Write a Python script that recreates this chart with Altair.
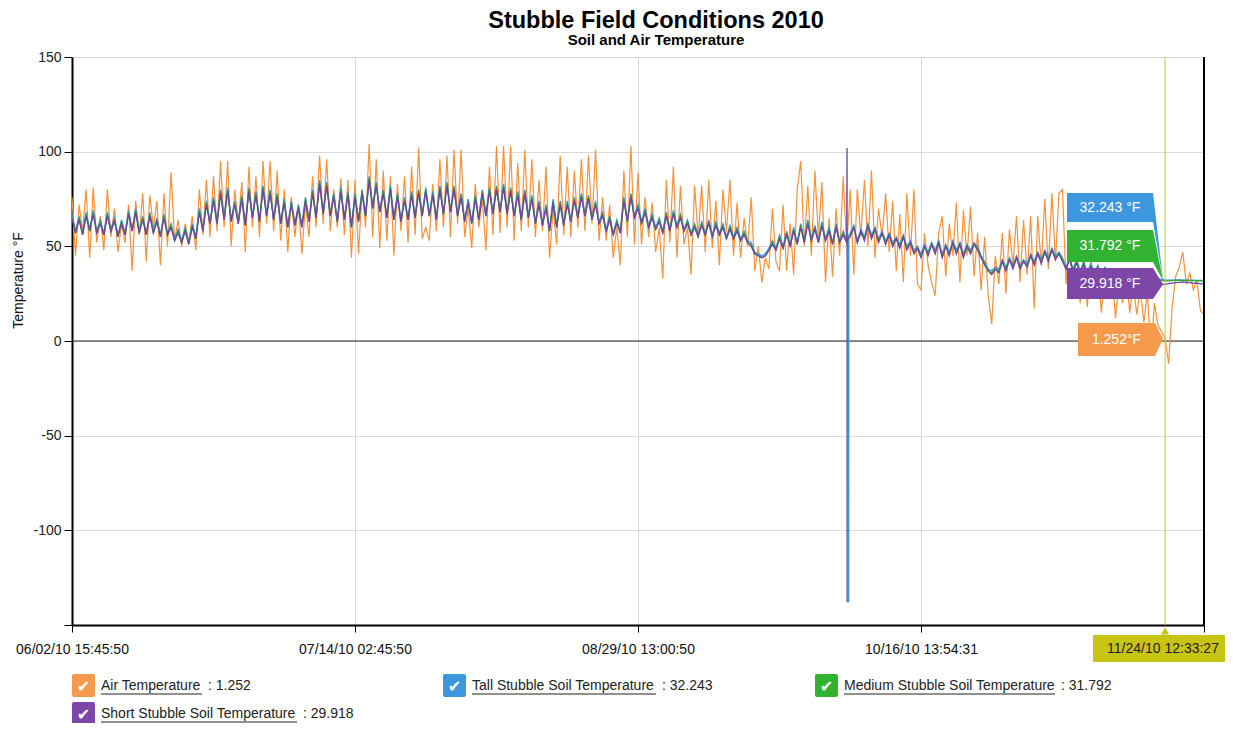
import altair as alt
import pandas as pd

# ---------------- data ----------------
STEP = 0.5  # x-units between samples (axis: 40 units between labelled ticks)

AIR = [
    76, 45, 72, 58, 80, 44, 81, 52, 66, 48, 80, 55, 70, 47, 62, 52, 72, 37, 74, 56,
    78, 42, 77, 60, 74, 40, 78, 50, 89, 53, 64, 50, 62, 52, 66, 48, 80, 56, 85, 55,
    87, 58, 95, 60, 95, 50, 80, 62, 84, 47, 92, 60, 87, 55, 95, 62, 95, 58, 90, 53,
    80, 47, 76, 55, 72, 46, 73, 55, 87, 60, 98, 62, 96, 58, 80, 60, 86, 56, 85, 44,
    85, 46, 80, 60, 104, 55, 96, 49, 90, 53, 87, 45, 83, 58, 87, 52, 92, 56, 102, 54,
    60, 53, 83, 58, 96, 60, 98, 55, 101, 62, 101, 55, 70, 49, 83, 60, 75, 48, 92, 56,
    103, 57, 103, 60, 103, 53, 94, 58, 101, 60, 96, 55, 85, 58, 92, 44, 70, 51, 98, 56,
    92, 55, 90, 60, 96, 58, 98, 62, 101, 53, 76, 53, 72, 44, 60, 40, 90, 55, 103, 51,
    89, 51, 76, 55, 73, 47, 60, 33, 85, 52, 92, 44, 82, 51, 60, 35, 82, 55, 82, 47,
    85, 49, 74, 40, 80, 58, 85, 45, 73, 44, 65, 50, 76, 37, 50, 31, 44, 38, 70, 42,
    37, 72, 37, 62, 35, 80, 95, 50, 82, 45, 90, 55, 84, 31, 65, 34, 70, 45, 87, 50,
    80, 35, 80, 55, 85, 50, 90, 44, 70, 55, 78, 47, 74, 37, 67, 31, 78, 45, 80, 30,
    27, 57, 40, 31, 24, 57, 66, 34, 62, 45, 73, 31, 69, 45, 71, 34, 57, 27, 55, 24,
    9, 45, 30, 57, 25, 59, 40, 66, 31, 64, 35, 66, 17, 66, 40, 75, 38, 78, 42, 78,
    80, 30, 55, 25, 50, 20, 45, 18, 42, 23, 40, 15, 38, 22, 35, 12, 33, 20, 36, 15,
    30, 14, 28, 10, 25, -6, 20, 8, 5, 1.252, -12, 18, 34, 39, 47, 30, 36, 27, 32, 16,
    14,
]

TALL = [
    67, 58, 66, 57, 68, 59, 69, 58, 64, 57, 68, 59, 65, 56, 64, 57, 69, 59, 70, 58,
    66, 57, 68, 58, 65, 56, 67, 57, 62, 54, 59, 53, 60, 52, 62, 55, 70, 59, 74, 63,
    76, 63, 80, 65, 81, 64, 74, 63, 77, 62, 81, 66, 79, 64, 82, 67, 80, 65, 78, 63,
    75, 61, 74, 62, 72, 61, 76, 64, 80, 66, 85, 68, 84, 67, 78, 64, 81, 65, 79, 61,
    78, 64, 80, 67, 87, 71, 84, 69, 80, 66, 82, 65, 78, 64, 76, 65, 79, 66, 80, 67,
    81, 67, 79, 65, 82, 68, 84, 69, 82, 67, 78, 64, 75, 63, 77, 65, 80, 67, 81, 68,
    82, 69, 83, 68, 81, 67, 79, 65, 80, 66, 77, 63, 74, 62, 72, 59, 75, 61, 74, 62,
    74, 64, 76, 66, 78, 67, 77, 65, 74, 63, 68, 59, 66, 57, 64, 58, 76, 64, 78, 66,
    72, 63, 70, 61, 67, 60, 65, 58, 68, 59, 69, 61, 67, 59, 64, 57, 62, 56, 63, 57,
    64, 56, 63, 57, 62, 55, 61, 55, 60, 54, 58, 53, 52, 47, 46, 45, 46, 49, 53, 49,
    56, 50, 58, 51, 60, 52, 62, 53, 64, 54, 61, 53, 63, 54, 60, 52, 62, 53, 58, 53,
    57, 61, 53, 59, 55, 62, 56, 60, 54, 58, 53, 57, 52, 55, 51, 56, 50, 53, 48, 50,
    46, 51, 47, 52, 48, 53, 46, 51, 47, 53, 48, 52, 46, 51, 48, 52, 50, 45, 42, 38,
    37, 39, 38, 43, 39, 44, 40, 45, 40, 43, 41, 46, 42, 47, 43, 48, 44, 49, 45, 47,
    44, 39, 44, 38, 43, 37, 42, 36, 41, 36, 40, 35, 39, 34, 38, 34, 37, 33.5, 36, 33,
    35, 33, 34, 33, 33.5, 33, 33, 32.8, 32.5, 32.243, 32.2, 32.2, 32.3, 32.3, 32.2, 32.2, 32.1, 32.1, 32.0, 32.0,
    32.0,
]

MEDIUM = [
    66, 57, 65, 56, 67, 58, 68, 57, 63, 56, 67, 58, 64, 55, 63, 56, 68, 58, 69, 57,
    65, 56, 67, 57, 64, 55, 66, 56, 61, 53, 58, 52, 59, 51, 61, 54, 69, 58, 73, 62,
    75, 62, 79, 64, 80, 63, 73, 62, 76, 61, 80, 65, 78, 63, 81, 66, 79, 64, 77, 62,
    74, 60, 73, 61, 71, 60, 75, 63, 79, 65, 84, 67, 83, 66, 77, 63, 80, 64, 78, 60,
    77, 63, 79, 66, 86, 70, 83, 68, 79, 65, 81, 64, 77, 63, 75, 64, 78, 65, 79, 66,
    80, 66, 78, 64, 81, 67, 83, 68, 81, 66, 77, 63, 74, 62, 76, 64, 79, 66, 80, 67,
    81, 68, 82, 67, 80, 66, 78, 64, 79, 65, 76, 62, 73, 61, 71, 58, 74, 60, 73, 61,
    73, 63, 75, 65, 77, 66, 76, 64, 73, 62, 67, 58, 65, 56, 63, 57, 75, 63, 77, 65,
    71, 62, 69, 60, 66, 59, 64, 57, 67, 58, 68, 60, 66, 58, 63, 56, 61, 55, 62, 56,
    63, 55, 62, 56, 61, 54, 60, 54, 59, 53, 57, 52, 51, 46, 45, 44, 45, 48, 52, 48,
    55, 49, 57, 50, 59, 51, 61, 52, 63, 53, 60, 52, 62, 53, 59, 51, 61, 52, 57, 52,
    56, 60, 52, 58, 54, 61, 55, 59, 53, 57, 52, 56, 51, 54, 50, 55, 49, 52, 47, 49,
    45, 50, 46, 51, 47, 52, 45, 50, 46, 52, 47, 51, 45, 50, 47, 51, 49, 44, 41, 37,
    36, 38, 37, 42, 38, 43, 39, 44, 39, 42, 40, 45, 41, 46, 42, 47, 43, 48, 44, 46,
    43, 38, 43, 37, 42, 36, 41, 35, 40, 35, 39, 34, 38, 33, 37, 33, 36, 32.5, 35, 32.5,
    34, 32.5, 33.5, 32.3, 33, 32.2, 32.5, 32.0, 31.9, 31.792, 31.8, 31.9, 32.0, 32.1, 32.0, 32.0, 31.9, 31.9, 31.8, 31.8,
    31.8,
]

SHORT = [
    65, 57, 64, 56, 66, 58, 67, 57, 62, 56, 66, 58, 63, 55, 62, 56, 67, 58, 68, 57,
    64, 56, 66, 57, 63, 55, 65, 56, 60, 53, 57, 52, 58, 51, 60, 54, 68, 58, 72, 62,
    74, 62, 78, 64, 79, 63, 72, 62, 75, 61, 79, 65, 77, 63, 80, 66, 78, 64, 76, 62,
    73, 60, 72, 61, 70, 60, 74, 63, 78, 65, 83, 67, 82, 66, 76, 63, 79, 64, 77, 60,
    76, 63, 78, 66, 85, 70, 82, 68, 78, 65, 80, 64, 76, 63, 74, 64, 77, 65, 78, 66,
    79, 66, 77, 64, 80, 67, 82, 68, 80, 66, 76, 63, 73, 62, 75, 64, 78, 66, 79, 67,
    80, 68, 81, 67, 79, 66, 77, 64, 78, 65, 75, 62, 72, 61, 70, 58, 73, 60, 72, 61,
    72, 63, 74, 65, 76, 66, 75, 64, 72, 62, 66, 58, 64, 56, 62, 57, 74, 63, 76, 65,
    70, 62, 68, 60, 65, 59, 63, 57, 66, 58, 67, 60, 65, 58, 62, 56, 60, 55, 61, 56,
    62, 55, 61, 56, 60, 54, 59, 54, 58, 53, 56, 52, 50, 46, 45, 44, 45, 48, 51, 48,
    54, 49, 56, 50, 58, 51, 60, 52, 62, 53, 59, 52, 61, 53, 58, 51, 60, 52, 56, 52,
    55, 60, 52, 58, 53, 61, 54, 59, 52, 57, 51, 56, 50, 54, 49, 55, 48, 52, 46, 49,
    44, 50, 45, 51, 46, 52, 44, 50, 45, 52, 46, 51, 44, 50, 46, 51, 48, 44, 40, 37,
    35, 38, 36, 42, 37, 43, 38, 44, 38, 42, 39, 45, 40, 46, 41, 47, 42, 48, 43, 46,
    42, 38, 43, 37, 41, 36, 40, 35, 39, 35, 38, 34, 37, 33, 36, 33, 35, 32, 34, 32,
    33, 31, 32, 30.5, 31, 30.5, 30.5, 30, 30, 29.918, 30.3, 30.6, 30.8, 31.0, 31.2, 31.0, 30.8, 30.6, 30.5, 30.3,
    30.0,
]

# sensor glitch (spike) around 10/07
TALL_SPIKE_X = [109.77, 109.78, 109.79]
TALL_SPIKE_Y = [53, -138, 56]
SHORT_SPIKE_X = [109.55, 109.56, 109.57]
SHORT_SPIKE_Y = [102, -138, 54]

NAMES = ["Air Temperature", "Tall Stubble Soil Temperature",
         "Medium Stubble Soil Temperature", "Short Stubble Soil Temperature"]
COLORS = ["#f7913a", "#3a93dc", "#2eaa2e", "#7343a3"]
BOX_COLORS = ["#f59a4c", "#3c97de", "#31b231", "#7d46a8"]
CURRENT = [1.252, 32.243, 31.792, 29.918]
CALLOUT_TEXT = ["1.252°F", "32.243 °F", "31.792 °F", "29.918 °F"]
LEGEND_VALUE = [": 1.252", ": 32.243", ": 31.792", ": 29.918"]

X_TICKS = [0, 40, 80, 120, 160]
X_TICK_LABELS = ["06/02/10 15:45:50", "07/14/10 02:45:50", "08/29/10 13:00:50",
                 "10/16/10 13:54:31", ""]
Y_TICKS = [-150, -100, -50, 0, 50, 100, 150]
CROSS_X = 154.5
CROSS_LABEL = "11/24/10 12:33:27"

# ---------------- layout helpers ----------------
FONT = "Liberation Sans"
W, H = 1132, 568
X_DOMAIN = [0, 160]
Y_DOMAIN = [-150, 150]


def ux(px):
    return X_DOMAIN[0] + px * (X_DOMAIN[1] - X_DOMAIN[0]) / W


def vy(py):
    return Y_DOMAIN[1] - py * (Y_DOMAIN[1] - Y_DOMAIN[0]) / H


XS = alt.Scale(domain=X_DOMAIN, nice=False, zero=False)
YS = alt.Scale(domain=Y_DOMAIN, nice=False, zero=False)

label_expr = " : ".join(
    f"datum.value == {v} ? '{l}'" for v, l in zip(X_TICKS, X_TICK_LABELS)) + " : ''"

X_AXIS = alt.Axis(
    title=None, values=X_TICKS, labelExpr=label_expr, grid=True, gridColor="#d9d9d9",
    domainColor="#000", domainWidth=2, tickColor="#000", tickSize=7, tickWidth=1,
    labelFont=FONT, labelFontSize=14, labelColor="#111", labelPadding=10,
    labelOverlap=False, labelFlush=False)
Y_AXIS = alt.Axis(
    values=Y_TICKS, labelExpr="datum.value == -150 ? '' : '' + datum.value",
    title="Temperature °F", titleFont=FONT, titleFontSize=14, titleFontWeight="normal",
    titleColor="#111", titleX=-50, titleY=223, titleAngle=-90, titleAlign="center",
    titleBaseline="alphabetic",
    grid=True, gridColor="#d9d9d9", domainColor="#000", domainWidth=2,
    tickColor="#000", tickSize=8, labelFont=FONT, labelFontSize=14, labelColor="#222",
    labelPadding=3)


def ex(f):
    return alt.X(f, type="quantitative", scale=XS, axis=X_AXIS)


def ey(f):
    return alt.Y(f, type="quantitative", scale=YS, axis=Y_AXIS)


COLOR = alt.Color("series:N", scale=alt.Scale(domain=NAMES, range=BOX_COLORS), legend=None)

# ---------------- series table ----------------
rows = []
for name, vals in zip(NAMES, [AIR, TALL, MEDIUM, SHORT]):
    for i, v in enumerate(vals):
        rows.append({"series": name, "x": i * STEP, "y": v})
for xv, yv in zip(TALL_SPIKE_X, TALL_SPIKE_Y):
    rows.append({"series": NAMES[1], "x": xv, "y": yv})
for xv, yv in zip(SHORT_SPIKE_X, SHORT_SPIKE_Y):
    rows.append({"series": NAMES[3], "x": xv, "y": yv})
df = pd.DataFrame(rows)

base = alt.Chart(df)
zero_rule = alt.Chart(pd.DataFrame({"y": [0]})).mark_rule(
    color="#222", strokeWidth=1).encode(y=ey("y"))

line_layers = []
for i, (name, col) in enumerate(zip(NAMES, COLORS)):
    line_layers.append(
        base.transform_filter(alt.datum.series == name).mark_line(
            color=col, strokeWidth=1.2 if i == 0 else 1.3).encode(x=ex("x"), y=ey("y")))

right_border = alt.Chart(pd.DataFrame({"x": [X_DOMAIN[1]]})).mark_rule(
    color="#000", strokeWidth=2).encode(x=ex("x"))
cross_rule = alt.Chart(pd.DataFrame({"x": [CROSS_X]})).mark_rule(
    color="#bccd35", strokeWidth=1).encode(x=ex("x"))

# ---------------- callouts (stacked value flags) ----------------
order = [1, 2, 3, 0]  # tall, medium, short, air (top to bottom)
box_x1 = [ux(995), ux(995), ux(995), ux(1006)]
box_x2 = [ux(1081), ux(1081), ux(1081), ux(1083)]
box_top = [vy(136), vy(173), vy(211), vy(266)]
box_bot = [vy(165), vy(205), vy(242), vy(299)]
tip_x = ux(1091)

box_rows, tail_rows, txt_rows = [], [], []
for k, si in enumerate(order):
    box_rows.append({"series": NAMES[si], "x1": box_x1[k], "x2": box_x2[k],
                     "y1": box_top[k], "y2": box_bot[k]})
    tail_rows.append({"series": NAMES[si], "x": box_x2[k], "ya": box_top[k], "yb": box_bot[k]})
    tail_rows.append({"series": NAMES[si], "x": tip_x, "ya": CURRENT[si], "yb": CURRENT[si]})
    txt_rows.append({"series": NAMES[si], "x": (box_x1[k] + box_x2[k]) / 2,
                     "y": (box_top[k] + box_bot[k]) / 2, "t": CALLOUT_TEXT[si]})

callout_layers = []
for k, si in enumerate(order):
    nm = NAMES[si]
    tails = alt.Chart(pd.DataFrame([r for r in tail_rows if r["series"] == nm])).mark_area(
        opacity=1).encode(x=ex("x"), y=ey("ya"), y2=alt.Y2("yb"), color=COLOR)
    boxes = alt.Chart(pd.DataFrame([r for r in box_rows if r["series"] == nm])).mark_rect().encode(
        x=ex("x1"), x2=alt.X2("x2"), y=ey("y1"), y2=alt.Y2("y2"), color=COLOR)
    texts = alt.Chart(pd.DataFrame([r for r in txt_rows if r["series"] == nm])).mark_text(
        font=FONT, fontSize=14, color="white", align="center", baseline="middle").encode(
        x=ex("x"), y=ey("y"), text="t:N")
    callout_layers += [tails, boxes, texts]

# ---------------- crosshair date flag ----------------
cross_box = alt.Chart(pd.DataFrame({"x1": [ux(1021)], "x2": [ux(1170)],
                                    "y1": [vy(578)], "y2": [vy(605)]})).mark_rect(
    color="#c8c414").encode(x=ex("x1"), x2=alt.X2("x2"), y=ey("y1"), y2=alt.Y2("y2"))
cross_tri = alt.Chart(pd.DataFrame({"x": [CROSS_X], "y": [vy(574)]})).mark_point(
    shape="triangle-up", filled=True, size=70, color="#c8c414", opacity=1).encode(
    x=ex("x"), y=ey("y"))
cross_txt = alt.Chart(pd.DataFrame({"x": [ux(1091)], "y": [vy(592)], "t": [CROSS_LABEL]})).mark_text(
    font=FONT, fontSize=14, color="#222", align="center", baseline="middle").encode(
    x=ex("x"), y=ey("y"), text="t:N")

# ---------------- legend (check boxes) ----------------
LEG_COL_PX = [0, 371, 743, 0]
LEG_ROW_PX = [617, 617, 617, 645]
LEG_LABEL_W = [101, 184, 211, 196]
LEG_FONT_SIZE = 14

leg_box, leg_chk, leg_lab, leg_ul, leg_val = [], [], [], [], []
for i, nm in enumerate(NAMES):
    cx, ry, w = LEG_COL_PX[i], LEG_ROW_PX[i], LEG_LABEL_W[i]
    leg_box.append({"series": nm, "x1": ux(cx), "x2": ux(cx + 23), "y1": vy(ry), "y2": vy(ry + 23)})
    leg_chk.append({"x": ux(cx + 11.5), "y": vy(ry + 12.5), "t": "✔"})
    leg_lab.append({"x": ux(cx + 29), "y": vy(ry + 12), "t": nm})
    leg_ul.append({"x1": ux(cx + 29), "x2": ux(cx + 29 + w), "y": vy(ry + 20)})
    leg_val.append({"x": ux(cx + 29 + w + 6), "y": vy(ry + 12), "t": LEGEND_VALUE[i]})

legend_layers = [
    alt.Chart(pd.DataFrame(leg_box)).mark_rect(cornerRadius=2).encode(
        x=ex("x1"), x2=alt.X2("x2"), y=ey("y1"), y2=alt.Y2("y2"), color=COLOR),
    alt.Chart(pd.DataFrame(leg_chk)).mark_text(
        font="DejaVu Sans", fontSize=16, color="white", align="center", baseline="middle").encode(
        x=ex("x"), y=ey("y"), text="t:N"),
    alt.Chart(pd.DataFrame(leg_lab)).mark_text(
        font=FONT, fontSize=LEG_FONT_SIZE, color="#222", align="left", baseline="middle").encode(
        x=ex("x"), y=ey("y"), text="t:N"),
    alt.Chart(pd.DataFrame(leg_ul)).mark_rule(color="#222", strokeWidth=1).encode(
        x=ex("x1"), x2=alt.X2("x2"), y=ey("y")),
    alt.Chart(pd.DataFrame(leg_val)).mark_text(
        font=FONT, fontSize=LEG_FONT_SIZE, color="#222", align="left", baseline="middle").encode(
        x=ex("x"), y=ey("y"), text="t:N"),
]

chart = alt.layer(
    zero_rule, *line_layers, right_border, cross_rule, *callout_layers,
    cross_box, cross_tri, cross_txt, *legend_layers
).properties(
    width=W, height=H,
    title=alt.TitleParams(
        text="Stubble Field Conditions 2010", subtitle="Soil and Air Temperature",
        font=FONT, subtitleFont=FONT, fontSize=23.5, subtitleFontSize=15,
        fontWeight="bold", subtitleFontWeight="bold", color="#000", subtitleColor="#000",
        anchor="middle", dx=18, offset=2, subtitlePadding=1),
    padding={"left": 64, "top": 49, "right": 21, "bottom": 98},
    autosize=alt.AutoSizeParams(type="none"),
).configure_view(stroke=None).configure(font=FONT)

chart.save("out.html", embed_options={"renderer": "svg", "actions": False})
